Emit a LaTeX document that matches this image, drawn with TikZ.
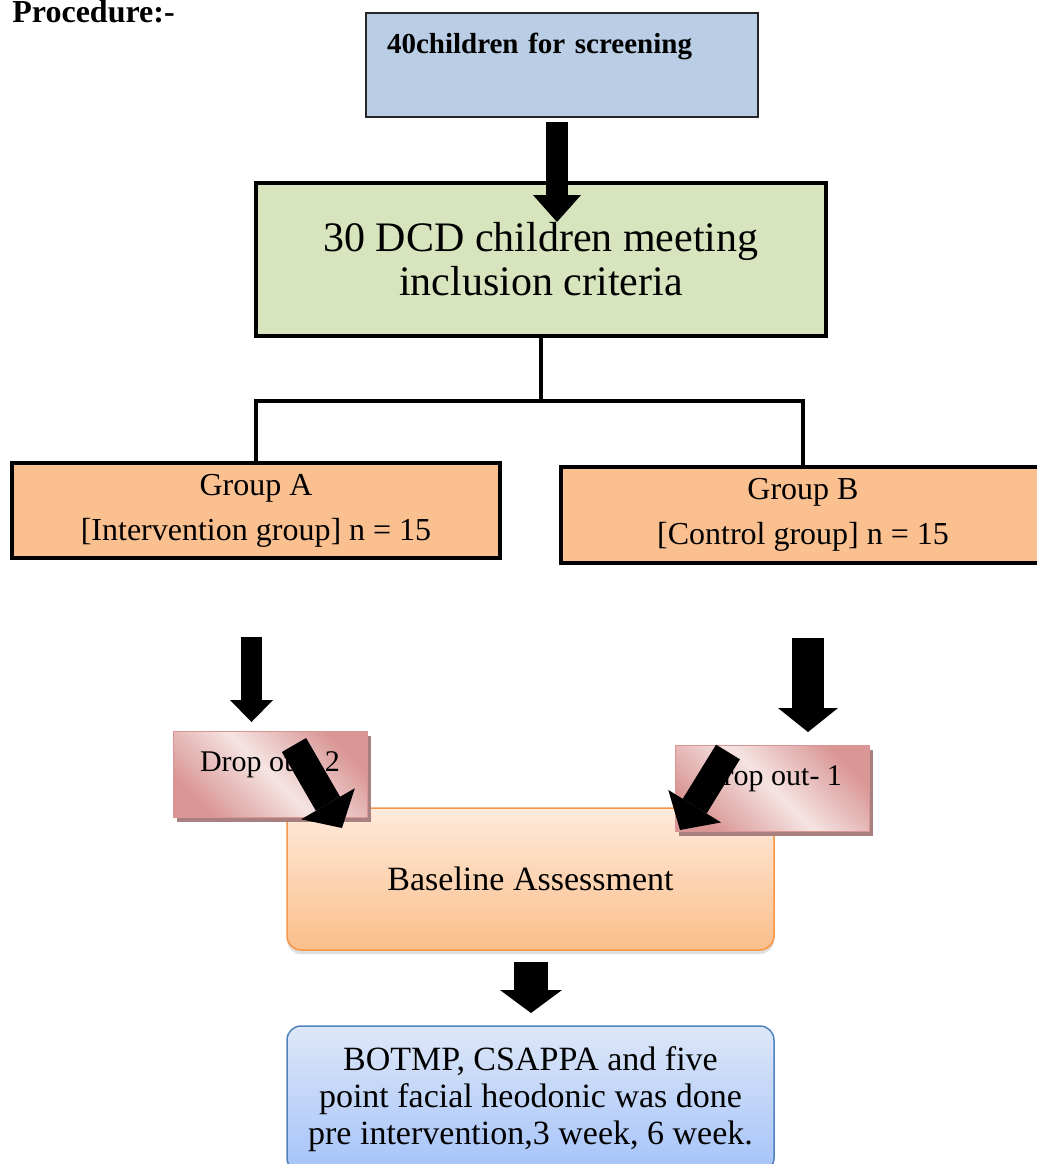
\documentclass[tikz,border=0pt]{standalone}
\usepackage{fontspec}
\setmainfont{Liberation Serif}
\usetikzlibrary{arrows.meta,shadows}

\definecolor{screenblue}{HTML}{B9CDE5}
\definecolor{incgreen}{HTML}{D7E4BD}
\definecolor{grouporange}{HTML}{FAC090}
\definecolor{dropdark}{HTML}{D99694}
\definecolor{droplight}{HTML}{F5E4E3}
\definecolor{dropshade}{HTML}{A8807F}
\definecolor{baseedge}{HTML}{F79646}
\definecolor{basetop}{HTML}{FEEADB}
\definecolor{basebot}{HTML}{FBBE8A}
\definecolor{assedge}{HTML}{4F81BD}
\definecolor{asstop}{HTML}{DDE7F8}
\definecolor{assbot}{HTML}{A5C3F9}

\begin{document}
\begin{tikzpicture}[x=0.5pt, y=-0.5pt,
                   every node/.style={inner sep=3pt},
                   thickbox/.style={rectangle, draw=black, line width=2pt},
                   dropbox/.style={rectangle, draw=dropdark, line width=0.4pt,
                                   top color=dropdark, bottom color=dropdark, middle color=droplight,
                                   shading angle=-45, minimum width=97pt, minimum height=43pt,
                                   font=\fontsize{15}{18}\selectfont, text height=8pt, text depth=11pt,
                                   drop shadow={shadow xshift=2pt, shadow yshift=-2.5pt, fill=dropshade, opacity=1}},
                   softbox/.style={rectangle, rounded corners=7pt, line width=0.75pt,
                                   minimum width=243.5pt, align=center},
                   conn/.style={line width=2pt},
                   fat/.style args={#1/#2/#3}{line width=#1, -{Triangle[length=#2, width=#3, line width=0pt]}}]

\useasboundingbox (0,0) rectangle (1037,1164);

\node[anchor=base west, font=\fontsize{16}{19}\selectfont\bfseries] (title) at (6,22) {Procedure:-};

\node[rectangle, draw=black!85, line width=0.75pt, fill=screenblue,
      minimum width=196pt, minimum height=52pt, text width=175pt, inner xsep=10.5pt,
      align=left, font=\fontsize{14.5}{17}\selectfont\bfseries,
      text height=8pt, text depth=20pt] (screen) at (562,65) {40children for screening};

\node[thickbox, fill=incgreen, minimum width=285pt, minimum height=76.5pt, align=center,
      font=\fontsize{21}{22}\selectfont] (dcd) at (541,259.5) {30 DCD children meeting\\inclusion criteria};

\node[thickbox, fill=grouporange, minimum width=244pt, minimum height=47.5pt, align=center,
      font=\fontsize{16}{22.5}\selectfont] (grpA) at (256,510.5) {\raisebox{-2pt}{Group A}\\\raisebox{-2pt}{[Intervention group] n = 15}};
\node[thickbox, fill=grouporange, minimum width=242pt, minimum height=48pt, align=center,
      font=\fontsize{16}{22.5}\selectfont] (grpB) at (803,515) {\raisebox{-1.5pt}{Group B}\\\raisebox{-1.5pt}{[Control group] n = 15}};

% split to the two groups
\coordinate (split) at (541,401);
\draw[conn] (dcd.south) -- (split);
\draw[conn] (split) -| (grpA.north);
\draw[conn] (split) -| (grpB.north);

% block arrows
\coordinate (topA) at (557,122);  \coordinate (topB) at (557,222);
\coordinate (leftA) at (251.5,637); \coordinate (leftB) at (251.5,722);
\coordinate (rightA) at (808,638); \coordinate (rightB) at (808,732);
\draw[fat=11pt/13.5pt/24pt] (topA) -- (topB);
\draw[fat=10.5pt/11pt/21.5pt] (leftA) -- (leftB);
\draw[fat=16pt/12pt/30pt] (rightA) -- (rightB);

\node[softbox, draw=baseedge, top color=basetop, bottom color=basebot, minimum height=71pt,
      font=\fontsize{17}{20}\selectfont,
      drop shadow={shadow xshift=0pt, shadow yshift=-2pt, opacity=0.25}] (base) at (530.5,879) {Baseline Assessment};

\node[dropbox] (dropA) at (270,774) {Drop out- 2};
\node[dropbox] (dropB) at (772,788) {Drop out- 1};

\coordinate (diagA) at (294,745); \coordinate (diagB) at (342,828);
\coordinate (diagC) at (728,752); \coordinate (diagD) at (680,830);
\draw[fat=14pt/14pt/31pt] (diagA) -- (diagB);
\draw[fat=14pt/14pt/31pt] (diagC) -- (diagD);

\coordinate (botA) at (531,962); \coordinate (botB) at (531,1013);
\draw[fat=17pt/11.5pt/31pt] (botA) -- (botB);

\node[softbox, draw=assedge, top color=asstop, bottom color=assbot, minimum height=73pt,
      font=\fontsize{17}{18.5}\selectfont] (assess) at (530.5,1099)
      {BOTMP, CSAPPA and five\\point facial heodonic was done\\pre intervention,3 week, 6 week.};

\end{tikzpicture}
\end{document}
